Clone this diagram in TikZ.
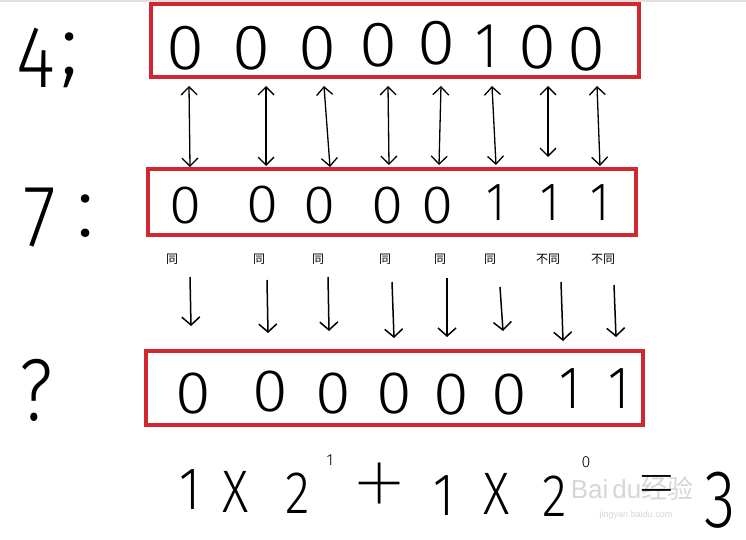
\documentclass[tikz,border=0pt]{standalone}
\usepackage{fontspec}
\setmainfont{Liberation Sans}
\IfFontExistsTF{Fira Sans Light}{\newfontfamily\hand{Fira Sans Light}}{\newfontfamily\hand{Liberation Sans}}
\IfFontExistsTF{Fira Sans Thin}{\newfontfamily\thinf{Fira Sans Thin}}{\newfontfamily\thinf{Liberation Sans}}
\newfontfamily\cjk{Noto Sans CJK SC}
\usetikzlibrary{arrows.meta}
\definecolor{boxred}{RGB}{210,38,48}
\newcommand\nar[1]{\scalebox{0.85}[1]{#1}}
\newcommand\wid[1]{\scalebox{1.08}[1]{#1}}
\tikzset{
  redbox/.style={draw=boxred, line width=4pt},
  digA/.style={font=\hand\fontsize{64}{64}\selectfont, inner sep=0pt},
  digB/.style={font=\hand\fontsize{54}{54}\selectfont, inner sep=0pt},
  digC/.style={font=\hand\fontsize{60}{60}\selectfont, inner sep=0pt},
  side/.style={font=\hand\fontsize{88}{88}\selectfont, inner sep=0pt},
  lbl/.style={font=\cjk\fontsize{12}{12}\selectfont, inner sep=0pt},
  eqn/.style={font=\hand\fontsize{60}{60}\selectfont, inner sep=0pt},
  opr/.style={font=\thinf\fontsize{124}{124}\selectfont, inner sep=0pt},
  supr/.style={font=\hand\fontsize{16}{16}\selectfont, inner sep=0pt},
  wm/.style={text=black!16, inner sep=0pt},
  dbl/.style={line width=1.3pt, {Straight Barb[length=8pt,width=16pt]}-{Straight Barb[length=8pt,width=16pt]}},
  dn/.style={line width=1.5pt, -{Straight Barb[length=8pt,width=18pt]}},
}
\begin{document}
\begin{tikzpicture}[x=1pt,y=-1pt]
\useasboundingbox (0,0) rectangle (746,540);
\fill[white] (0,0) rectangle (746,540);
\fill[black!12] (0,0) rectangle (746,2);

% boxes
\node[redbox, minimum width=488pt, minimum height=73pt, inner sep=0pt] (box1) at (395,40.5) {};
\node[redbox, minimum width=488pt, minimum height=66pt, inner sep=0pt] (box2) at (392,202) {};
\node[redbox, minimum width=497pt, minimum height=74pt, inner sep=0pt] (box3) at (394.5,388) {};

% side labels
\node[side] (l4) at (36,58) {\nar{4}};
\node[side] (lsc) at (70,60) {;};
\node[side] (l7) at (40,218) {\nar{7}};
\node[side] (lc) at (86,216) {:};
\node[side] (lq) at (36,390) {\nar{?}};

% row 1 : 4
\node[digA] (a1) at (186,48) {\wid{0}};
\node[digA] (a2) at (252,48) {\wid{0}};
\node[digA] (a3) at (318,48) {\wid{0}};
\node[digA] (a4) at (379,45) {\wid{0}};
\node[digA] (a5) at (437,43) {\wid{0}};
\node[digA] (a6) at (487,46) {\nar{1}};
\node[digA] (a7) at (537,47) {\wid{0}};
\node[digA] (a8) at (586,49) {\wid{0}};

% row 2 : 7
\node[digB] (b1) at (186,206) {\wid{0}};
\node[digB] (b2) at (263,205) {\wid{0}};
\node[digB] (b3) at (320,206) {\wid{0}};
\node[digB] (b4) at (388,206) {\wid{0}};
\node[digB] (b5) at (438,206) {\wid{0}};
\node[digB] (b6) at (496,203) {\nar{1}};
\node[digB] (b7) at (550,203) {\nar{1}};
\node[digB] (b8) at (600,203) {\nar{1}};

% row 3 : ?
\node[digC] (c1) at (193,394) {\wid{0}};
\node[digC] (c2) at (270,392) {\wid{0}};
\node[digC] (c3) at (333,394) {\wid{0}};
\node[digC] (c4) at (394,394) {\wid{0}};
\node[digC] (c5) at (451,395) {\wid{0}};
\node[digC] (c6) at (509,395) {\wid{0}};
\node[digC] (c7) at (570,389) {\nar{1}};
\node[digC] (c8) at (619,389) {\nar{1}};

% double arrows between row 1 and row 2
\foreach \i/\xt/\xb/\yb in {1/189/190/167, 2/266/266/166, 3/324/330/167, 4/388/389/165, 5/441/439/165, 6/492/496/165, 7/548/548/157, 8/597/600/166}{
  \coordinate (ut\i) at (\xt,86);
  \coordinate (ub\i) at (\xb,\yb);
  \draw[dbl] (ut\i) -- (ub\i);
}

% labels
\node[lbl] (s1) at (172,259) {同};
\node[lbl] (s2) at (259,259) {同};
\node[lbl] (s3) at (318,259) {同};
\node[lbl] (s4) at (385,259) {同};
\node[lbl] (s5) at (440,259) {同};
\node[lbl] (s6) at (490,259) {同};
\node[lbl] (s7) at (548,259) {不同};
\node[lbl] (s8) at (603,259) {不同};

% down arrows
\foreach \i/\xt/\yt/\xb/\yb in {1/190/277/191/326, 2/267/280/268/333, 3/328/277/329/331, 4/392/282/394/338, 5/447/278/447/337, 6/500/287/503/331, 7/561/282/563/341, 8/614/285/616/337}{
  \coordinate (dt\i) at (\xt,\yt);
  \coordinate (db\i) at (\xb,\yb);
  \draw[dn] (dt\i) -- (db\i);
}

% watermark
\node[wm, font=\fontsize{26}{26}\selectfont] (w1) at (632,488) {Bai\hspace{4pt}du\cjk 经验};
\node[wm, font=\fontsize{9}{9}\selectfont] (w2) at (636,515) {jingyan.baidu.com};

% equation
\node[eqn] (e1) at (190,490) {\nar{1}};
\node[eqn] (e2) at (236,492) {\nar{X}};
\node[eqn] (e3) at (298,493) {\nar{2}};
\node[supr] (e4) at (330,460) {1};
\node[opr] (e5) at (380,494) {+};
\node[eqn] (e6) at (444,496) {\nar{1}};
\node[eqn] (e7) at (497,494) {\nar{X}};
\node[eqn] (e8) at (555,496) {\nar{2}};
\node[supr] (e9) at (586,462) {0};
\node[font=\thinf\fontsize{88}{88}\selectfont, inner sep=0pt] (e10) at (657,494) {=};
\node[font=\hand\fontsize{82}{82}\selectfont, inner sep=0pt] (e11) at (720,500) {\scalebox{0.78}[1]{3}};
\end{tikzpicture}
\end{document}
